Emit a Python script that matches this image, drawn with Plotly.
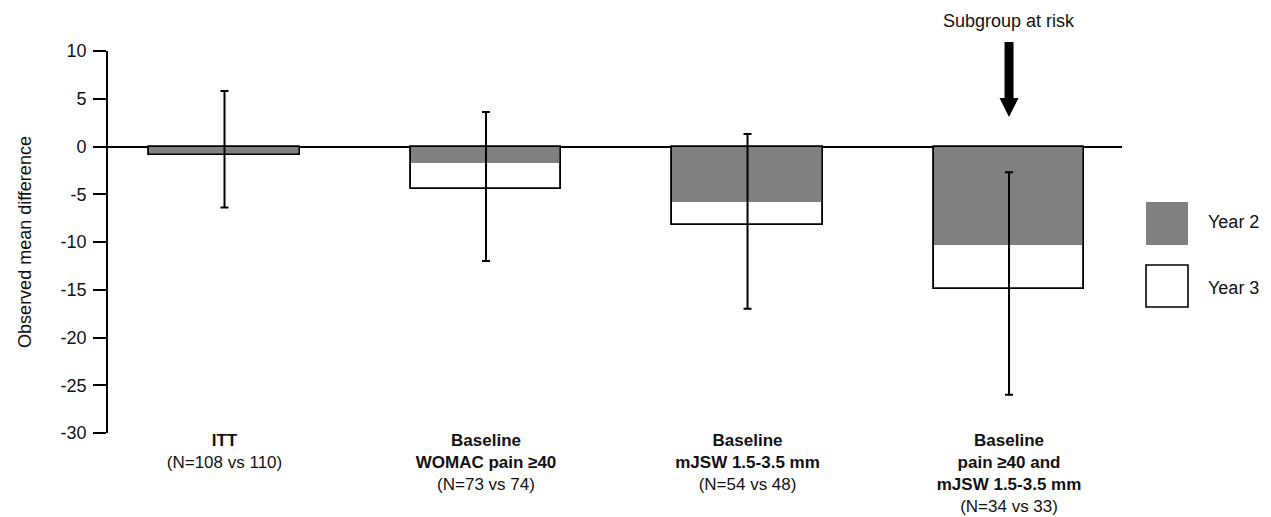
import plotly.graph_objects as go

# ---- data ----
categories = [
    "<b>ITT</b><br>(N=108 vs 110)",
    "<b>Baseline</b><br><b>WOMAC pain ≥40</b><br>(N=73 vs 74)",
    "<b>Baseline</b><br><b>mJSW 1.5-3.5 mm</b><br>(N=54 vs 48)",
    "<b>Baseline</b><br><b>pain ≥40 and</b><br><b>mJSW 1.5-3.5 mm</b><br>(N=34 vs 33)",
]
year2 = [-0.9, -1.7, -5.8, -10.3]
year3 = [-0.9, -4.5, -8.2, -14.9]
ci_upper = [5.8, 3.6, 1.3, -2.7]
ci_lower = [-6.4, -12.0, -17.0, -26.0]
y_ticks = [10, 5, 0, -5, -10, -15, -20, -25, -30]

FONT = "Liberation Sans, Arial, Helvetica, sans-serif"
GRAY = "#808080"
INK = "#111111"

W, H = 1271, 517
ML, MR, MT, MB = 108, 149, 51, 84
PW, PH = W - ML - MR, H - MT - MB

xs = list(range(len(categories)))
bar_w = 0.574

fig = go.Figure()
fig.add_trace(go.Bar(x=xs, y=year3, width=bar_w, name="Year 3",
                     marker=dict(color="white", line=dict(color="black", width=1.6)),
                     showlegend=False))
fig.add_trace(go.Bar(x=xs, y=year2, width=bar_w, name="Year 2",
                     marker=dict(color=GRAY, line=dict(width=0)),
                     showlegend=False))
fig.add_trace(go.Bar(x=xs, y=year3, width=bar_w, name="outline",
                     marker=dict(color="rgba(0,0,0,0)", line=dict(color="black", width=1.6)),
                     showlegend=False, hoverinfo="skip"))
fig.add_trace(go.Scatter(
    x=xs, y=year3, mode="markers",
    marker=dict(size=1, color="rgba(0,0,0,0)"),
    error_y=dict(type="data", symmetric=False,
                 array=[u - v for u, v in zip(ci_upper, year3)],
                 arrayminus=[v - l for v, l in zip(year3, ci_lower)],
                 color="black", thickness=2, width=4),
    showlegend=False, hoverinfo="skip"))

def px_to_paper_x(px):
    return (px - ML) / PW

def px_to_paper_y(py):
    return (H - MB - py) / PH

shapes = []
annotations = []

# legend boxes
shapes.append(dict(type="rect", xref="paper", yref="paper",
                   x0=px_to_paper_x(1146), x1=px_to_paper_x(1188),
                   y0=px_to_paper_y(245), y1=px_to_paper_y(202),
                   fillcolor=GRAY, line=dict(width=0)))
shapes.append(dict(type="rect", xref="paper", yref="paper",
                   x0=px_to_paper_x(1146), x1=px_to_paper_x(1188),
                   y0=px_to_paper_y(307), y1=px_to_paper_y(265),
                   fillcolor="white", line=dict(color="black", width=1.6)))
annotations.append(dict(text="Year 2", xref="paper", yref="paper",
                        x=px_to_paper_x(1206), y=px_to_paper_y(222),
                        xanchor="left", yanchor="middle", showarrow=False,
                        font=dict(family=FONT, size=18, color=INK)))
annotations.append(dict(text="Year 3", xref="paper", yref="paper",
                        x=px_to_paper_x(1206), y=px_to_paper_y(288),
                        xanchor="left", yanchor="middle", showarrow=False,
                        font=dict(family=FONT, size=18, color=INK)))

# arrow for subgroup at risk
shapes.append(dict(type="path", xref="x", yref="paper",
                   xsizemode="pixel", ysizemode="pixel",
                   xanchor=3, yanchor=1,
                   path="M -4.5,9 L 4.5,9 L 4.5,-47 L 9.5,-47 L 0,-66 L -9.5,-47 L -4.5,-47 Z",
                   fillcolor="black", line=dict(width=0)))
annotations.append(dict(text="Subgroup at risk", xref="x", yref="paper",
                        x=3, y=px_to_paper_y(21), xanchor="center", yanchor="middle",
                        showarrow=False, font=dict(family=FONT, size=18, color=INK)))

fig.update_layout(
    width=W, height=H,
    margin=dict(l=ML, r=MR, t=MT, b=MB, pad=0, autoexpand=False),
    paper_bgcolor="white", plot_bgcolor="white",
    barmode="overlay", bargap=0,
    showlegend=False,
    shapes=shapes, annotations=annotations,
    font=dict(family=FONT, color=INK),
)
fig.update_xaxes(
    tickmode="array", tickvals=xs, ticktext=categories,
    range=[-0.4455, 3.432], showline=False, ticks="", showgrid=False,
    zeroline=False, automargin=False, ticklabelstandoff=-5,
    tickfont=dict(family=FONT, size=17, color=INK),
)
fig.update_yaxes(
    range=[-30, 10], tickmode="array", tickvals=y_ticks,
    ticktext=[str(v) for v in y_ticks],
    showline=True, linecolor="black", linewidth=1.6,
    ticks="outside", ticklen=13, tickwidth=1.6, tickcolor="black",
    ticklabelstandoff=3,
    showgrid=False, zeroline=True, zerolinecolor="black", zerolinewidth=1.6,
    automargin=False,
    tickfont=dict(family=FONT, size=18, color=INK),
    title=dict(text="Observed mean difference", font=dict(family=FONT, size=18, color=INK), standoff=24),
)

fig.write_html("out.html", config={"displayModeBar": False},
               post_script="document.body.style.margin='0';document.body.style.overflow='hidden';")
